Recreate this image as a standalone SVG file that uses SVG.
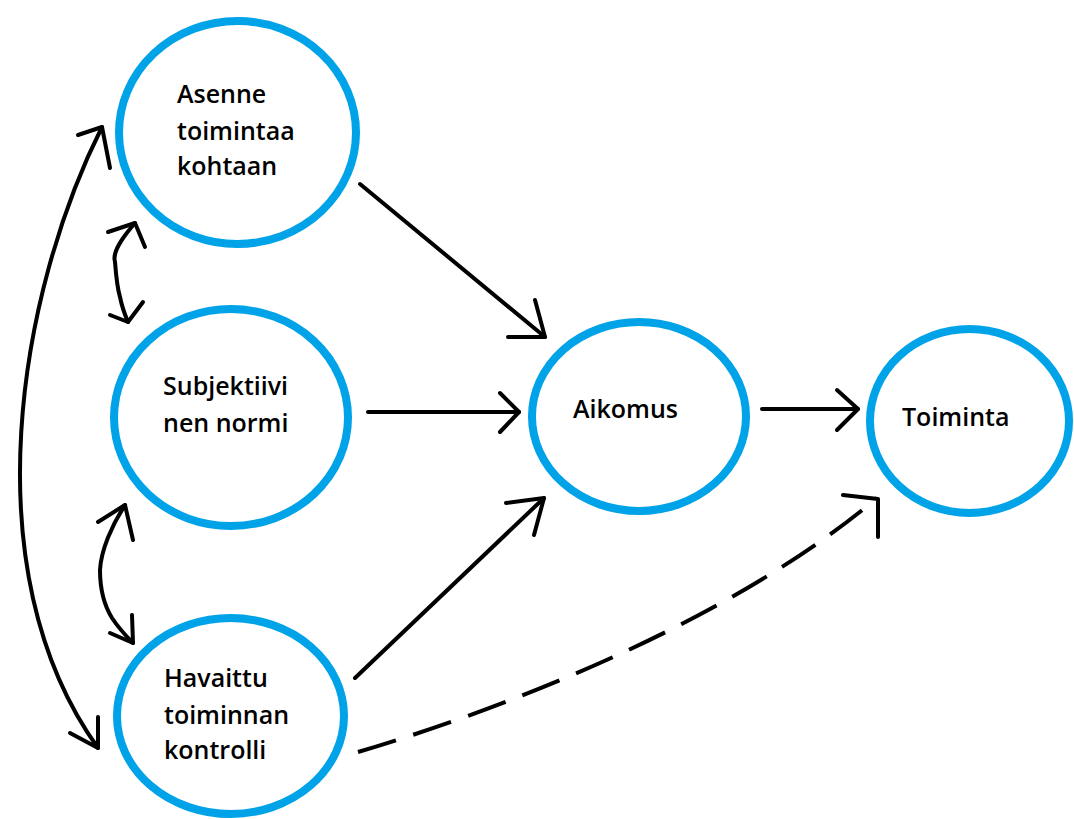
<svg xmlns="http://www.w3.org/2000/svg" width="1074" height="819" viewBox="0 0 1074 819">
  <style>
    .node { fill: #ffffff; stroke: #00a2e8; stroke-width: 8; }
    .label { font-family: "Open Sans", "Noto Sans", "DejaVu Sans", sans-serif; font-weight: 600; font-size: 25px; fill: #000000; }
    .line { fill: none; stroke: #000000; stroke-width: 4; stroke-linecap: round; stroke-linejoin: round; }
    .dash { stroke-dasharray: 40 18; stroke-linecap: butt; }
  </style>
  <rect width="1074" height="819" fill="#ffffff"/>

  <!-- connectors, drawn freehand: shaft plus two barbs each -->
  <g id="connectors">
    <!-- attitude -> intention -->
    <path class="line" d="M360,184 L545,337"/>
    <path class="line" d="M535,300 L545,337 L508,337"/>
    <!-- subjective norm -> intention -->
    <path class="line" d="M368,412 L519,412"/>
    <path class="line" d="M500,393 L519,412 L500,432"/>
    <!-- perceived control -> intention -->
    <path class="line" d="M355,678 L544,498"/>
    <path class="line" d="M506,503 L544,498 L534,535"/>
    <!-- intention -> behaviour -->
    <path class="line" d="M762,409 L858,409"/>
    <path class="line" d="M837,390 L858,409 L837,430"/>
    <!-- perceived control -> behaviour (dashed) -->
    <path class="line dash" d="M358,752 C480,716 720,630 877,498"/>
    <path class="line" d="M843,495 L878,499 L878,537"/>
    <!-- long two-way arc between attitude and perceived control -->
    <path class="line" d="M102,127 C20,290 -30,570 98,748"/>
    <path class="line" d="M78,135 L102,127 L110,168"/>
    <path class="line" d="M70,733 L98,748 L98,717"/>
    <!-- two-way arrow: attitude / subjective norm -->
    <path class="line" d="M135,223 C122,238 112,252 115,262 C116,275 117,287 120,297 C122,307 125,315 128,322"/>
    <path class="line" d="M108,232 L135,223 L145,247"/>
    <path class="line" d="M110,315 L128,322 L143,302"/>
    <!-- two-way arrow: subjective norm / perceived control -->
    <path class="line" d="M125,505 C112,525 101,550 100,570 C100,590 104,605 112,618 C120,630 127,637 133,643"/>
    <path class="line" d="M98,522 L125,505 L133,540"/>
    <path class="line" d="M110,633 L133,643 L132,615"/>
  </g>

  <g id="asenne">
    <ellipse class="node" cx="237.5" cy="132.5" rx="118.5" ry="111.5"/>
    <text class="label" x="177" y="103">Asenne</text>
    <text class="label" x="177" y="140">toimintaa</text>
    <text class="label" x="177" y="175">kohtaan</text>
  </g>

  <g id="subjektiivinen-normi">
    <ellipse class="node" cx="231" cy="417.5" rx="117" ry="108.5"/>
    <text class="label" x="163" y="395">Subjektiivi</text>
    <text class="label" x="163" y="432">nen normi</text>
  </g>

  <g id="havaittu-kontrolli">
    <ellipse class="node" cx="230.5" cy="716" rx="113.5" ry="98"/>
    <text class="label" x="164" y="687">Havaittu</text>
    <text class="label" x="164" y="724">toiminnan</text>
    <text class="label" x="164" y="759">kontrolli</text>
  </g>

  <g id="aikomus">
    <ellipse class="node" cx="639" cy="416.5" rx="107" ry="94.5"/>
    <text class="label" x="573" y="418">Aikomus</text>
  </g>

  <g id="toiminta">
    <ellipse class="node" cx="969.5" cy="421" rx="99.5" ry="92"/>
    <text class="label" x="902" y="426">Toiminta</text>
  </g>
</svg>
